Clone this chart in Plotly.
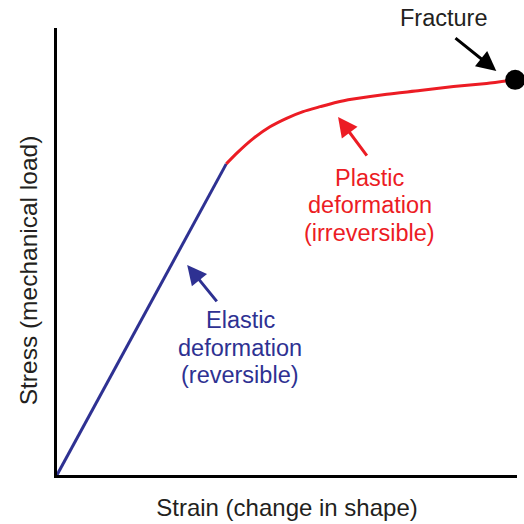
import plotly.graph_objects as go

# Schematic stress-strain curve (arbitrary units, 0-100)
elastic_strain = [0.0, 36.8]
elastic_stress = [0.0, 69.6]

plastic_strain = [36.8, 39.1, 42.7, 46.3, 49.9, 53.5, 57.2, 60.8, 64.4, 71.7, 78.9, 86.2, 93.4, 99.6]
plastic_stress = [69.6, 72.0, 75.3, 77.9, 79.8, 81.3, 82.4, 83.4, 84.1, 85.2, 86.0, 86.9, 87.6, 88.4]

fracture_strain = [99.6]
fracture_stress = [88.4]

plastic_lines = ["Plastic", "deformation", "(irreversible)"]
elastic_lines = ["Elastic", "deformation", "(reversible)"]

BLUE = "#2e3192"
RED = "#ec1c24"
TXT = "#231f20"
FONT = "Liberation Sans, Arial, sans-serif"

fig = go.Figure()
fig.add_trace(go.Scatter(x=elastic_strain, y=elastic_stress, mode="lines",
                         line=dict(color=BLUE, width=3), cliponaxis=False,
                         hoverinfo="skip"))
fig.add_trace(go.Scatter(x=plastic_strain, y=plastic_stress, mode="lines",
                         line=dict(color=RED, width=3, shape="spline", smoothing=0.6),
                         cliponaxis=False, hoverinfo="skip"))
fig.add_trace(go.Scatter(x=fracture_strain, y=fracture_stress, mode="markers",
                         marker=dict(color="black", size=20), cliponaxis=False,
                         hoverinfo="skip"))

def arrow(x, y, ax, ay, color):
    fig.add_annotation(x=x, y=y, ax=ax, ay=ay, xref="x", yref="y",
                       axref="x", ayref="y", text="", showarrow=True,
                       arrowhead=2, arrowsize=1.3, arrowwidth=3,
                       arrowcolor=color)

arrow(95.5, 90.4, 86.3, 98.0, "black")
arrow(61.1, 80.1, 67.6, 71.1, RED)
arrow(28.3, 47.0, 35.0, 38.5, BLUE)

def text_block(lines, x, y, color, spacing=27.5):
    n = len(lines)
    for i, t in enumerate(lines):
        fig.add_annotation(x=x, y=y, xref="x", yref="y", text=t,
                           showarrow=False, xanchor="center", yanchor="middle",
                           yshift=((n - 1) / 2 - i) * spacing,
                           font=dict(family=FONT, size=23.5, color=color))

fig.add_annotation(x=0.841, y=1.022, xref="paper", yref="paper", text="Fracture",
                   showarrow=False, xanchor="center", yanchor="middle",
                   font=dict(family=FONT, size=23.5, color=TXT))
text_block(plastic_lines, 68.0, 60.4, RED)
text_block(elastic_lines, 39.8, 28.5, BLUE)

# y-axis title placed as rotated text (sits slightly below the axis centre)
fig.add_annotation(x=-0.063, y=0.458, xref="paper", yref="paper",
                   text="Stress (mechanical load)", textangle=-90,
                   showarrow=False, xanchor="center", yanchor="middle",
                   font=dict(family=FONT, size=24.5, color=TXT))

axis_common = dict(showgrid=False, zeroline=False, showticklabels=False,
                   ticks="", showline=True, linecolor="black", linewidth=3,
                   range=[0, 100], fixedrange=True, automargin=False)

fig.update_layout(
    width=524, height=524,
    margin=dict(l=57, r=7, t=28, b=49),
    paper_bgcolor="white", plot_bgcolor="white",
    showlegend=False,
    xaxis=dict(title=dict(text="Strain (change in shape)", standoff=23,
                          font=dict(family=FONT, size=24, color=TXT)),
               **axis_common),
    yaxis=axis_common,
)

fig.write_html("out.html", config={"displayModeBar": False},
               post_script="document.body.style.margin='0';")
